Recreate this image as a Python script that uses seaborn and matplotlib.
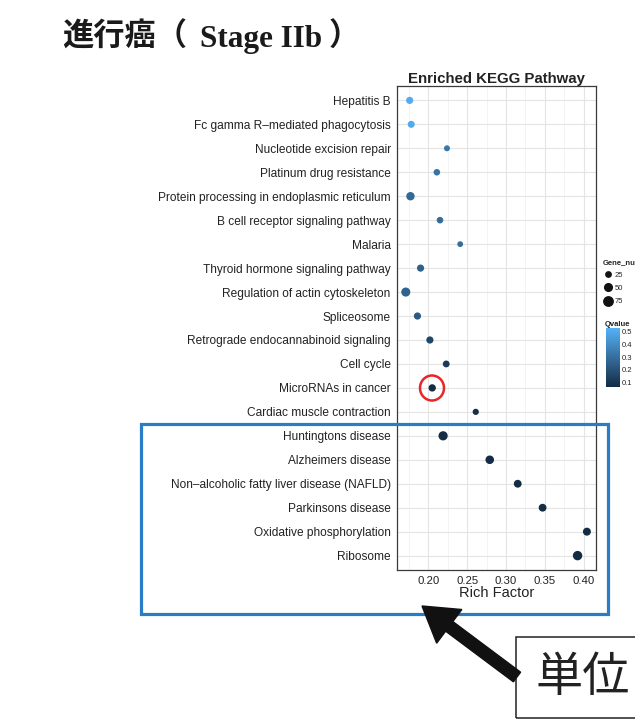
import numpy as np
import pandas as pd
import matplotlib
matplotlib.use("Agg")
import matplotlib.pyplot as plt
import seaborn as sns
from matplotlib.colors import LinearSegmentedColormap, Normalize
from matplotlib.cm import ScalarMappable
from matplotlib.lines import Line2D
import matplotlib.patches as mpatches
from matplotlib.ticker import MultipleLocator

# ---------------- data ----------------
pathways = [
    "Hepatitis B",
    "Fc gamma R\u2013mediated phagocytosis",
    "Nucleotide excision repair",
    "Platinum drug resistance",
    "Protein processing in endoplasmic reticulum",
    "B cell receptor signaling pathway",
    "Malaria",
    "Thyroid hormone signaling pathway",
    "Regulation of actin cytoskeleton",
    "Spliceosome",
    "Retrograde endocannabinoid signaling",
    "Cell cycle",
    "MicroRNAs in cancer",
    "Cardiac muscle contraction",
    "Huntingtons disease",
    "Alzheimers disease",
    "Non\u2013alcoholic fatty liver disease (NAFLD)",
    "Parkinsons disease",
    "Oxidative phosphorylation",
    "Ribosome",
]
rich_factor = [0.176, 0.178, 0.224, 0.211, 0.177, 0.215, 0.241, 0.190, 0.171, 0.186,
               0.202, 0.223, 0.205, 0.261, 0.219, 0.279, 0.315, 0.347, 0.404, 0.392]
gene_number = [44, 42, 31, 37, 60, 37, 29, 44, 70, 44,
               44, 40, 46, 33, 72, 62, 52, 52, 54, 92]
qvalue = [0.51, 0.50, 0.33, 0.32, 0.28, 0.29, 0.30, 0.25, 0.26, 0.23,
          0.16, 0.12, 0.07, 0.08, 0.07, 0.07, 0.07, 0.07, 0.065, 0.065]

x_ticks = [0.20, 0.25, 0.30, 0.35, 0.40]
q_ticks = [0.1, 0.2, 0.3, 0.4, 0.5]
size_breaks = [25, 50, 75]

df = pd.DataFrame({"Pathway": pathways, "RichFactor": rich_factor,
                   "GeneNumber": gene_number, "Qvalue": qvalue})

# ---------------- style ----------------
sns.set_theme(style="white")
plt.rcParams['font.family'] = ['Liberation Sans', 'DejaVu Sans']

W, H = 635, 720
fig = plt.figure(figsize=(W / 100, H / 100), dpi=100)
fig.patch.set_facecolor("white")

def fx(px):
    return px / W

def fy(py):
    return 1 - py / H

ax_l, ax_r, ax_t, ax_b = 397, 596, 86, 570
ax = fig.add_axes([fx(ax_l), fy(ax_b), fx(ax_r - ax_l), (ax_b - ax_t) / H])

cmap = LinearSegmentedColormap.from_list("gg", ["#132B43", "#56B1F7"])
qnorm = Normalize(0.063, 0.53)
size_norm = (25, 75)
size_range = (15, 46)

ax.set_axisbelow(True)
sns.scatterplot(data=df, x="RichFactor", y="Pathway", hue="Qvalue", hue_norm=qnorm,
                palette=cmap, size="GeneNumber", sizes=size_range, size_norm=size_norm,
                legend=False, ax=ax, linewidth=0, edgecolor="none", alpha=1)

n = len(pathways)
ax.set_ylim(n - 1 + 0.6, -0.6)
ax.set_xlim(0.1597, 0.4157)
ax.set_xticks(x_ticks)
ax.set_xticklabels([f"{t:.2f}" for t in x_ticks])
ax.xaxis.set_minor_locator(MultipleLocator(0.025))
ax.grid(True, which="major", color="#e4e4e4", lw=0.8)
ax.grid(True, which="minor", axis="x", color="#eeeeee", lw=0.5)
for s in ax.spines.values():
    s.set_visible(True)
    s.set_color("#3a3a3a")
    s.set_linewidth(0.9)
ax.tick_params(axis="both", which="major", direction="out", length=3, width=0.6,
               color="#3a3a3a", labelcolor="#222222", pad=1.5)
ax.tick_params(axis="y", labelsize=8.6)
ax.tick_params(axis="x", labelsize=8.2)
ax.tick_params(axis="x", which="minor", length=0)
ax.set_ylabel("")
ax.set_xlabel("Rich Factor", fontsize=10.5, color="#222222", labelpad=0)
ax.set_title("Enriched KEGG Pathway", fontsize=10.8, fontweight="bold", color="#222222", pad=2)

# ---------------- legends ----------------
def msize(b):
    return np.sqrt(size_range[0] + (b - size_norm[0]) / (size_norm[1] - size_norm[0])
                   * (size_range[1] - size_range[0]))

leg_handles = [Line2D([], [], marker="o", linestyle="none", color="#111111",
                      markersize=msize(b)) for b in size_breaks]
leg = ax.legend(leg_handles, [str(b) for b in size_breaks], title="Gene_number",
                loc="upper left", bbox_to_anchor=(fx(603), fy(259)), bbox_transform=fig.transFigure,
                frameon=False, fontsize=5.5, title_fontsize=5.5, handletextpad=0.1,
                labelspacing=0.75, borderaxespad=0, borderpad=0, alignment="left",
                handlelength=1.4)
leg.get_title().set_fontweight("bold")

cax = fig.add_axes([fx(606), fy(387), fx(620 - 606), (387 - 328) / H])
cb = fig.colorbar(ScalarMappable(norm=qnorm, cmap=cmap), cax=cax, ticks=q_ticks)
cb.outline.set_visible(False)
cax.tick_params(axis="y", direction="in", length=3, width=0.6, color="white",
                labelsize=5.5, labelcolor="#222222", pad=1.5, right=True, left=True)
cax.set_yticklabels([f"{t:.1f}" for t in q_ticks])
fig.text(fx(605), fy(328), "Qvalue", fontsize=5.5, fontweight="bold", color="#222222",
         ha="left", va="bottom")

# ---------------- annotations ----------------
title_font_cjk = ["Noto Sans CJK JP", "DejaVu Sans"]
fig.text(fx(62), fy(46), "進行癌（", fontsize=22.5, color="#1a1a1a",
         family=title_font_cjk, fontweight="bold", ha="left", va="baseline")
fig.text(fx(200), fy(47), "Stage IIb", fontsize=22.5, color="#1a1a1a",
         family=["Liberation Serif", "DejaVu Serif"], fontweight="bold",
         ha="left", va="baseline")
fig.text(fx(329), fy(46), "）", fontsize=22.5, color="#1a1a1a",
         family=title_font_cjk, fontweight="bold", ha="left", va="baseline")

fig.patches.append(mpatches.Rectangle((fx(141), fy(614)), fx(608 - 141), (614 - 424) / H,
                                      transform=fig.transFigure, fill=False,
                                      edgecolor="#2a7cc7", lw=2.3, zorder=10))
fig.patches.append(mpatches.Ellipse((fx(432), fy(388)), fx(24), 25 / H,
                                    transform=fig.transFigure, fill=False,
                                    edgecolor="#e8262a", lw=1.8, zorder=10))
fig.patches.append(mpatches.FancyArrow(5.17, (H - 677) / 100, -0.95, 0.71,
                                       width=0.12, head_width=0.42, head_length=0.34,
                                       length_includes_head=True, color="#111111",
                                       transform=fig.dpi_scale_trans, zorder=11))
fig.patches.append(mpatches.Rectangle((fx(516), fy(718)), fx(140), (718 - 637) / H,
                                      transform=fig.transFigure, fill=False,
                                      edgecolor="#222222", lw=1.1, zorder=10))
fig.text(fx(535), fy(678), "単位", fontsize=34, color="#222222",
         family=["Noto Sans CJK JP", "DejaVu Sans"], ha="left", va="center")

fig.savefig("out.png", dpi=100)
